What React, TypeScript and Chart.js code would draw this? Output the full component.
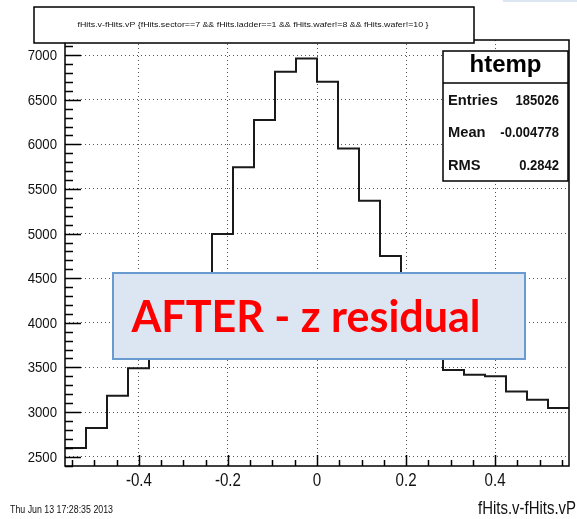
import React, { useEffect, useRef } from "react";
import { Chart, registerables } from "chart.js";

Chart.register(...registerables);

// ---- data ----
const X_MIN = -0.566;
const X_MAX = 0.566;
const binCounts = [
  2597, 2821, 3183, 3490, 3800, 4150, 4450, 4996, 5743, 6272, 6813, 6963,
  6701, 5955, 5369, 4750, 4250, 3750, 3470, 3418, 3400, 3231, 3138, 3045,
];
const Y_MIN = 2395;
const Y_MAX = 7170;
const xTickValues = [-0.4, -0.2, 0, 0.2, 0.4];
const xTickLabels = ["-0.4", "-0.2", "0", "0.2", "0.4"];
const yTickValues = [2500, 3000, 3500, 4000, 4500, 5000, 5500, 6000, 6500, 7000];
const yTickLabels = ["2500", "3000", "3500", "4000", "4500", "5000", "5500", "6000", "6500", "7000"];
const X_MINOR = 0.05;
const X_MINOR_PER_MAJOR = 4;
const Y_MINOR = 100;
const Y_MAJOR = 500;

const titleText =
  "fHits.v-fHits.vP {fHits.sector==7 && fHits.ladder==1 && fHits.wafer!=8 && fHits.wafer!=10 }";
const statsName = "htemp";
const statsLabels = ["Entries", "Mean", "RMS"];
const statsValues = ["185026", "-0.004778", "0.2842"];
const annotationText = "AFTER - z residual";
const xAxisTitle = "fHits.v-fHits.vP";
const dateText = "Thu Jun 13 17:28:35 2013";

const FONT = '"Liberation Sans", Arial, sans-serif';

function drawText(
  ctx: CanvasRenderingContext2D,
  s: string,
  x: number,
  y: number,
  font: string,
  align: CanvasTextAlign,
  opts: { sx?: number; fit?: number; color?: string; baseline?: CanvasTextBaseline } = {}
) {
  ctx.save();
  ctx.font = font;
  ctx.fillStyle = opts.color || "#000";
  ctx.textAlign = align;
  ctx.textBaseline = opts.baseline || "alphabetic";
  let sx = opts.sx ?? 1;
  if (opts.fit) {
    const w = ctx.measureText(s).width;
    sx = opts.fit / w;
  }
  ctx.translate(x, y);
  ctx.scale(sx, 1);
  ctx.fillText(s, 0, 0);
  ctx.restore();
}

const rootPlugin = {
  id: "rootDecor",
  afterDraw(chart: any) {
    const ctx: CanvasRenderingContext2D = chart.ctx;
    const { left, right, top, bottom } = chart.chartArea;
    const xs = chart.scales.x;
    const ys = chart.scales.y;
    ctx.save();

    // frame
    ctx.strokeStyle = "#000";
    ctx.lineWidth = 1.5;
    ctx.strokeRect(left, top, right - left, bottom - top);

    // inward ticks
    ctx.beginPath();
    for (let k = Math.ceil(ys.min / Y_MINOR); k * Y_MINOR <= ys.max; k++) {
      const v = k * Y_MINOR;
      const py = Math.round(ys.getPixelForValue(v)) + 0.5;
      const major = v % Y_MAJOR === 0;
      ctx.moveTo(left, py);
      ctx.lineTo(left + (major ? 16 : 8), py);
    }
    for (let k = Math.ceil(xs.min / X_MINOR); k * X_MINOR <= xs.max + 1e-9; k++) {
      const v = k * X_MINOR;
      const px = Math.round(xs.getPixelForValue(v)) + 0.5;
      const major = k % X_MINOR_PER_MAJOR === 0;
      ctx.moveTo(px, bottom);
      ctx.lineTo(px, bottom - (major ? 11 : 6));
    }
    ctx.stroke();

    // tick labels
    ys.ticks.forEach((t: any, i: number) => {
      const py = ys.getPixelForValue(t.value);
      drawText(ctx, yTickLabels[i], left - 8, py + 5, `15px ${FONT}`, "right", { sx: 0.88, color: "#111" });
    });
    xs.ticks.forEach((t: any, i: number) => {
      const px = xs.getPixelForValue(t.value);
      drawText(ctx, xTickLabels[i], px, 486, `18px ${FONT}`, "center", { sx: 0.84, color: "#111" });
    });

    // title box
    ctx.fillStyle = "#fff";
    ctx.fillRect(34, 7, 440, 36);
    ctx.lineWidth = 1.5;
    ctx.strokeStyle = "#000";
    ctx.strokeRect(34, 7, 440, 36);
    drawText(ctx, titleText, 253, 27, `8px ${FONT}`, "center", { fit: 351, color: "#111" });

    // stats box
    ctx.fillStyle = "#fff";
    ctx.fillRect(443, 51, 125, 130);
    ctx.strokeRect(443, 51, 125, 130);
    ctx.beginPath();
    ctx.moveTo(443, 83);
    ctx.lineTo(568, 83);
    ctx.stroke();
    drawText(ctx, statsName, 505.5, 72, `bold 24px ${FONT}`, "center", { fit: 72 });
    const rowY = [105, 137, 170];
    statsLabels.forEach((lab, i) => {
      drawText(ctx, lab, 448, rowY[i], `bold 14px ${FONT}`, "left", { sx: 1.05, color: "#111" });
      drawText(ctx, statsValues[i], 559, rowY[i], `bold 14px ${FONT}`, "right", { sx: 0.93, color: "#111" });
    });

    // annotation box
    ctx.fillStyle = "#dce6f2";
    ctx.fillRect(113, 273, 412, 86);
    ctx.strokeStyle = "#6a9bd0";
    ctx.lineWidth = 2;
    ctx.strokeRect(113, 273, 412, 86);
    drawText(ctx, annotationText, 131.5, 331.5, `bold 44px Lato, ${FONT}`, "left", { fit: 349, color: "#ff0000" });

    // bottom texts
    drawText(ctx, dateText, 10, 513, `10px ${FONT}`, "left", { fit: 103, color: "#111" });
    drawText(ctx, xAxisTitle, 576, 514, `18px ${FONT}`, "right", { fit: 98, color: "#111" });

    // slide artifact top-right
    ctx.fillStyle = "#dce6f2";
    ctx.fillRect(503, 0, 74, 2);

    ctx.restore();
  },
};

export default function App() {
  const canvasRef = useRef<HTMLCanvasElement | null>(null);

  useEffect(() => {
    document.body.style.margin = "0";
    const canvas = canvasRef.current;
    if (!canvas) return;
    const binWidth = (X_MAX - X_MIN) / binCounts.length;
    const points = binCounts.map((c, i) => ({ x: X_MIN + i * binWidth, y: c }));
    points.push({ x: X_MAX, y: binCounts[binCounts.length - 1] });

    const gridStyle = { color: "#555", lineWidth: 1, drawTicks: false };
    const borderStyle = { display: false, dash: [1, 3] };

    const chart = new Chart(canvas, {
      type: "line",
      data: {
        datasets: [
          {
            data: points,
            stepped: true,
            borderColor: "#1a1a1a",
            borderWidth: 2,
            pointRadius: 0,
            fill: false,
          },
        ],
      },
      options: {
        animation: false,
        responsive: false,
        devicePixelRatio: 1,
        layout: { padding: { left: 65, right: 8, top: 40, bottom: 53 } },
        plugins: {
          legend: { display: false },
          tooltip: { enabled: false },
          title: { display: false },
        },
        scales: {
          x: {
            type: "linear",
            min: X_MIN,
            max: X_MAX,
            ticks: { display: false },
            afterBuildTicks: (s: any) => {
              s.ticks = xTickValues.map((v) => ({ value: v }));
            },
            grid: gridStyle,
            border: borderStyle,
          },
          y: {
            type: "linear",
            min: Y_MIN,
            max: Y_MAX,
            ticks: { display: false },
            afterBuildTicks: (s: any) => {
              s.ticks = yTickValues.map((v) => ({ value: v }));
            },
            grid: gridStyle,
            border: borderStyle,
          },
        },
      } as any,
      plugins: [rootPlugin],
    });
    return () => chart.destroy();
  }, []);

  return (
    <div style={{ width: 577, height: 519, background: "#fff" }}>
      <canvas ref={canvasRef} width={577} height={519} style={{ display: "block" }} />
    </div>
  );
}
